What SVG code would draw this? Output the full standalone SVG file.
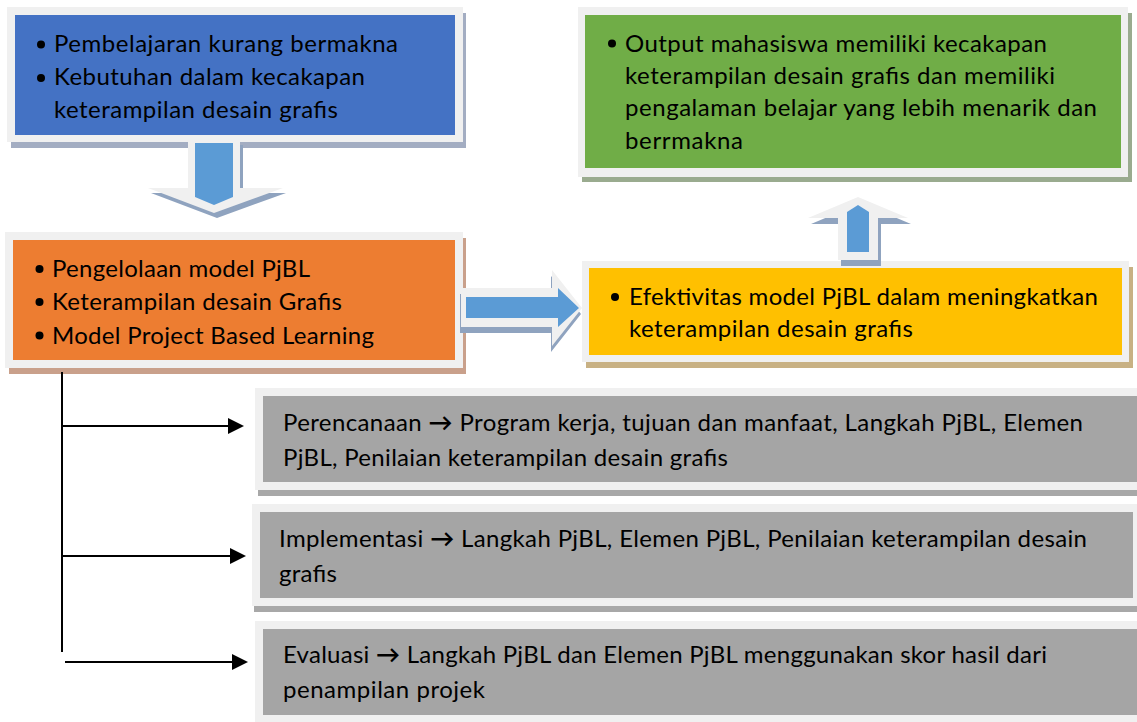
<svg xmlns="http://www.w3.org/2000/svg" width="1137" height="722" viewBox="0 0 1137 722">
  <style>
    .t { font-family: Lato, "Open Sans", "Liberation Sans", sans-serif; font-size: 24px; fill: #000; }
    .sym { font-weight: bold; }
    .glow { fill: #f0f0f0; }
    .dot { fill: #000; }
    .conn { stroke: #000; stroke-width: 2; fill: none; }
    .arrowFill { fill: #5b9bd5; }
    .arrowShadow { fill: #8fa3bf; }
  </style>
  <defs>
    <marker id="head" viewBox="0 0 16 16" markerUnits="userSpaceOnUse" markerWidth="16" markerHeight="16" refX="8" refY="8" orient="auto">
      <path d="M0,0 L16,8 L0,16 Z" fill="#000"/>
    </marker>
  </defs>
  <rect width="1137" height="722" fill="#ffffff"/>

  <!-- Problem box -->
  <g id="masalah">
    <rect x="11" y="13" width="455" height="135" fill="#a3adc2"/>
    <rect x="7" y="7" width="456" height="135" class="glow"/>
    <rect x="15" y="15" width="440" height="120" fill="#4472c4"/>
    <circle cx="41" cy="44.5" r="4" class="dot"/>
    <circle cx="41" cy="78" r="4" class="dot"/>
    <text class="t" x="54" y="51.5" textLength="344">Pembelajaran kurang bermakna</text>
    <text class="t" x="54" y="85" textLength="311">Kebutuhan dalam kecakapan</text>
    <text class="t" x="54" y="117.5" textLength="284">keterampilan desain grafis</text>
  </g>

  <!-- Down block arrow -->
  <g id="panah-bawah">
    <polygon class="arrowShadow" points="191,145 243,145 243,193 286,193 217,218 151,193 191,193"/>
    <polygon class="glow" points="188,140 240,140 240,188 283,188 214,213 148,188 188,188"/>
    <polygon class="arrowFill" points="195,143 233,143 233,197 214,205 195,197"/>
  </g>

  <!-- PjBL management box -->
  <g id="pengelolaan">
    <rect x="9" y="238" width="457" height="136" fill="#c9a08b"/>
    <rect x="5" y="232" width="458" height="136" class="glow"/>
    <rect x="13" y="240" width="442" height="120" fill="#ed7d31"/>
    <circle cx="39.5" cy="269" r="4" class="dot"/>
    <circle cx="39.5" cy="302" r="4" class="dot"/>
    <circle cx="39.5" cy="335.5" r="4" class="dot"/>
    <text class="t" x="52" y="277" textLength="258">Pengelolaan model PjBL</text>
    <text class="t" x="52" y="310" textLength="290">Keterampilan desain Grafis</text>
    <text class="t" x="52" y="343.5" textLength="322">Model Project Based Learning</text>
  </g>

  <!-- Right block arrow -->
  <g id="panah-kanan">
    <polygon class="arrowShadow" points="460,294 551,294 551,276 581,314 551,352 551,333 460,333"/>
    <polygon class="glow" points="461,288 552,288 552,270 582,308 552,346 552,327 461,327"/>
    <polygon class="arrowFill" points="466,297 558,297 558,288 579,308 558,327 558,318 466,318"/>
  </g>

  <!-- Effectiveness box -->
  <g id="efektivitas">
    <rect x="586" y="267" width="547" height="101" fill="#c8b184"/>
    <rect x="582" y="261" width="547" height="101" class="glow"/>
    <rect x="589" y="268" width="533" height="87" fill="#ffc000"/>
    <circle cx="615" cy="297" r="4" class="dot"/>
    <text class="t" x="629" y="305" textLength="469">Efektivitas model PjBL dalam meningkatkan</text>
    <text class="t" x="629" y="337" textLength="284">keterampilan desain grafis</text>
  </g>

  <!-- Up block arrow -->
  <g id="panah-atas">
    <polygon class="arrowShadow" points="861,203 911,224 881,224 881,266 841,266 841,224 811,224"/>
    <polygon class="glow" points="858,197 908,218 878,218 878,260 838,260 838,218 808,218"/>
    <polygon class="arrowFill" points="847,212 858,205 869,212 869,252 847,252"/>
  </g>

  <!-- Output box -->
  <g id="output">
    <rect x="582" y="13" width="550" height="169" fill="#9aab8f"/>
    <rect x="578" y="7" width="550" height="170" class="glow"/>
    <rect x="585" y="15" width="536" height="153" fill="#70ad47"/>
    <circle cx="612" cy="43.5" r="4" class="dot"/>
    <text class="t" x="625" y="51.5" textLength="422">Output mahasiswa memiliki kecakapan</text>
    <text class="t" x="625" y="83.5" textLength="430">keterampilan desain grafis dan memiliki</text>
    <text class="t" x="625" y="116" textLength="472">pengalaman belajar yang lebih menarik dan</text>
    <text class="t" x="625" y="148.5" textLength="118">berrmakna</text>
  </g>

  <!-- Planning box -->
  <g id="perencanaan">
    <rect x="258" y="394" width="890" height="102" fill="#a8a8a8"/>
    <rect x="255" y="388" width="890" height="102" class="glow"/>
    <rect x="263" y="396" width="882" height="86" fill="#a5a5a5"/>
    <text class="t" x="283" y="431" textLength="800">Perencanaan <tspan class="sym">→</tspan> Program kerja, tujuan dan manfaat, Langkah PjBL, Elemen</text>
    <text class="t" x="283" y="466" textLength="445">PjBL, Penilaian keterampilan desain grafis</text>
  </g>

  <!-- Implementation box -->
  <g id="implementasi">
    <rect x="254" y="510" width="890" height="102" fill="#a8a8a8"/>
    <rect x="252" y="504" width="890" height="102" class="glow"/>
    <rect x="260" y="512" width="873" height="86" fill="#a5a5a5"/>
    <text class="t" x="279" y="547" textLength="808">Implementasi <tspan class="sym">→</tspan> Langkah PjBL, Elemen PjBL, Penilaian keterampilan desain</text>
    <text class="t" x="279" y="582" textLength="58">grafis</text>
  </g>

  <!-- Evaluation box -->
  <g id="evaluasi">
    <rect x="255" y="621" width="890" height="110" class="glow"/>
    <rect x="263" y="629" width="882" height="86" fill="#a5a5a5"/>
    <text class="t" x="283" y="663" textLength="764">Evaluasi <tspan class="sym">→</tspan> Langkah PjBL dan Elemen PjBL menggunakan skor hasil dari</text>
    <text class="t" x="283" y="698" textLength="202">penampilan projek</text>
  </g>

  <!-- Connectors -->
  <g id="konektor">
    <line class="conn" x1="62" y1="372" x2="62" y2="652"/>
    <line class="conn" x1="62" y1="426" x2="236" y2="426" marker-end="url(#head)"/>
    <line class="conn" x1="63" y1="556" x2="238" y2="556" marker-end="url(#head)"/>
    <line class="conn" x1="65" y1="662" x2="240" y2="662" marker-end="url(#head)"/>
  </g>
</svg>
